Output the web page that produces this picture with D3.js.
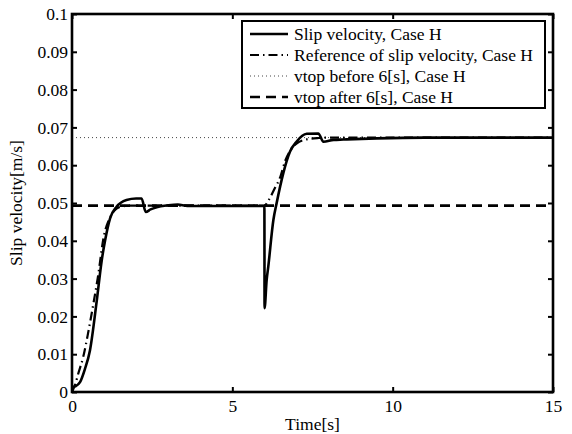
<!DOCTYPE html>
<html>
<head>
<meta charset="utf-8">
<script src="https://cdn.jsdelivr.net/npm/d3@7"></script>
<style>
  body { margin: 0; background: #fff; }
  svg text { font-family: "Liberation Serif", "Times New Roman", serif; font-size: 17.5px; fill: #000; }
</style>
</head>
<body>
<script>
// slip velocity, Case H
const slipTime = [0, 0.1, 0.25, 0.4, 0.56, 0.77, 0.93, 1.03, 1.19, 1.39, 1.7, 2.0, 2.17, 2.3, 2.45, 2.64, 3.0, 3.3, 3.6, 4.5, 6.0,
                  6.005, 6.07, 6.12, 6.28, 6.38, 6.59, 6.8, 7.0, 7.32, 7.68, 7.84, 8.16, 8.46, 9.5, 11, 15];
const slipValue = [0.0013, 0.0015, 0.0026, 0.006, 0.011, 0.024, 0.035, 0.040, 0.046, 0.049, 0.0508, 0.0512, 0.0512, 0.0476, 0.0483, 0.0489, 0.0494, 0.0496, 0.0492, 0.0492, 0.0492,
                   0.0222, 0.0296, 0.0331, 0.0455, 0.0499, 0.0579, 0.0636, 0.0662, 0.0683, 0.0684, 0.0662, 0.0667, 0.0668, 0.0671, 0.0673, 0.0673];

// reference of slip velocity
const refTime = [0, 0.1, 0.2, 0.35, 0.5, 0.67, 0.8, 1.0, 1.15, 1.3, 1.5, 1.8, 2.2, 6.0,
                 6.15, 6.3, 6.5, 6.65, 6.8, 7.0, 7.3, 7.7, 8.0, 15];
const refValue = [0, 0.002, 0.005, 0.0093, 0.0155, 0.0235, 0.030, 0.0415, 0.0455, 0.0478, 0.049, 0.0493, 0.0493, 0.0493,
                  0.051, 0.0535, 0.057, 0.0612, 0.0638, 0.0657, 0.0668, 0.0672, 0.0673, 0.0673];

const vtopBefore = 0.0673;
const vtopAfter = 0.0493;
const timeRange = [0, 15];

const xTicks = [0, 5, 10, 15];
const yTicks = [0, 0.01, 0.02, 0.03, 0.04, 0.05, 0.06, 0.07, 0.08, 0.09, 0.1];
const legendLabels = ['Slip velocity, Case H', 'Reference of slip velocity, Case H', 'vtop before 6[s], Case H', 'vtop after 6[s], Case H'];

const width = 572, height = 434;
const margin = {left: 72, right: 19, top: 14, bottom: 42};
const serif = '"Liberation Serif", "Times New Roman", serif';
const fontSize = 17.5;

const svg = d3.select('body').append('svg')
    .attr('width', width).attr('height', height);

const x = d3.scaleLinear().domain([0, 15]).range([margin.left, width - margin.right]);
const y = d3.scaleLinear().domain([0, 0.1]).range([height - margin.bottom, margin.top]);

const styles = [
    {w: 2.6, dash: null, color: '#000'},
    {w: 2.2, dash: '9,4,1.5,4', color: '#000'},
    {w: 1, dash: '1,3', color: '#444'},
    {w: 2.6, dash: '10,6', color: '#000'}
];

const line = d3.line().x(d => x(d[0])).y(d => y(d[1])).curve(d3.curveMonotoneX);

// horizontal vtop lines
[[vtopBefore, styles[2]], [vtopAfter, styles[3]]].forEach(([v, s]) => {
    svg.append('path')
        .attr('d', d3.line()(timeRange.map(t => [x(t), y(v)])))
        .attr('fill', 'none').attr('stroke', s.color)
        .attr('stroke-width', s.w).attr('stroke-dasharray', s.dash);
});

svg.append('path')
    .datum(d3.zip(refTime, refValue))
    .attr('d', line)
    .attr('fill', 'none').attr('stroke', styles[1].color)
    .attr('stroke-width', styles[1].w).attr('stroke-dasharray', styles[1].dash);

svg.append('path')
    .datum(d3.zip(slipTime, slipValue))
    .attr('d', line)
    .attr('fill', 'none').attr('stroke', '#000')
    .attr('stroke-width', styles[0].w).attr('stroke-linejoin', 'round');

// axes, MATLAB box style with inward ticks
const xAxis = g => g.call(d3.axisBottom(x).tickValues(xTicks).tickSize(-5).tickPadding(8).tickFormat(d3.format('d')));
const yAxis = g => g.call(d3.axisLeft(y).tickValues(yTicks).tickSize(-5).tickPadding(4).tickFormat(d => d === 0 ? '0' : d3.format('.2~f')(d)));

svg.append('g').attr('transform', `translate(0,${y(0)})`).call(xAxis);
svg.append('g').attr('transform', `translate(${x(0)},0)`).call(yAxis);
svg.append('g').attr('transform', `translate(0,${y(0.1)})`)
    .call(d3.axisTop(x).tickValues(xTicks).tickSize(-5).tickFormat(''));
svg.append('g').attr('transform', `translate(${x(15)},0)`)
    .call(d3.axisRight(y).tickValues(yTicks).tickSize(-5).tickFormat(''));

svg.selectAll('.domain').remove();
svg.selectAll('.tick line').attr('stroke', '#000').attr('stroke-width', 2);
svg.selectAll('.tick text')
    .attr('font-family', serif).attr('font-size', fontSize)
    .style('font-family', serif).style('font-size', fontSize + 'px');

svg.append('rect')
    .attr('x', x(0)).attr('y', y(0.1))
    .attr('width', x(15) - x(0)).attr('height', y(0) - y(0.1))
    .attr('fill', 'none').attr('stroke', '#000').attr('stroke-width', 2.6);

// axis labels
svg.append('text')
    .attr('x', (x(0) + x(15)) / 2).attr('y', 430)
    .attr('text-anchor', 'middle').text('Time[s]');
svg.append('text')
    .attr('transform', `translate(22,${(y(0) + y(0.1)) / 2}) rotate(-90)`)
    .attr('text-anchor', 'middle').text('Slip velocity[m/s]');

// legend
const legend = svg.append('g').attr('transform', 'translate(242,21)');
legend.append('rect')
    .attr('width', 303).attr('height', 87)
    .attr('fill', '#fff').attr('stroke', '#000').attr('stroke-width', 2);
legendLabels.forEach((label, i) => {
    const s = styles[i];
    const yy = 13 + i * 21;
    legend.append('line')
        .attr('x1', 8).attr('x2', 46).attr('y1', yy).attr('y2', yy)
        .attr('stroke', s.color).attr('stroke-width', s.w).attr('stroke-dasharray', s.dash);
    legend.append('text')
        .attr('x', 52).attr('y', yy + 5.5).text(label);
});
</script>
</body>
</html>
